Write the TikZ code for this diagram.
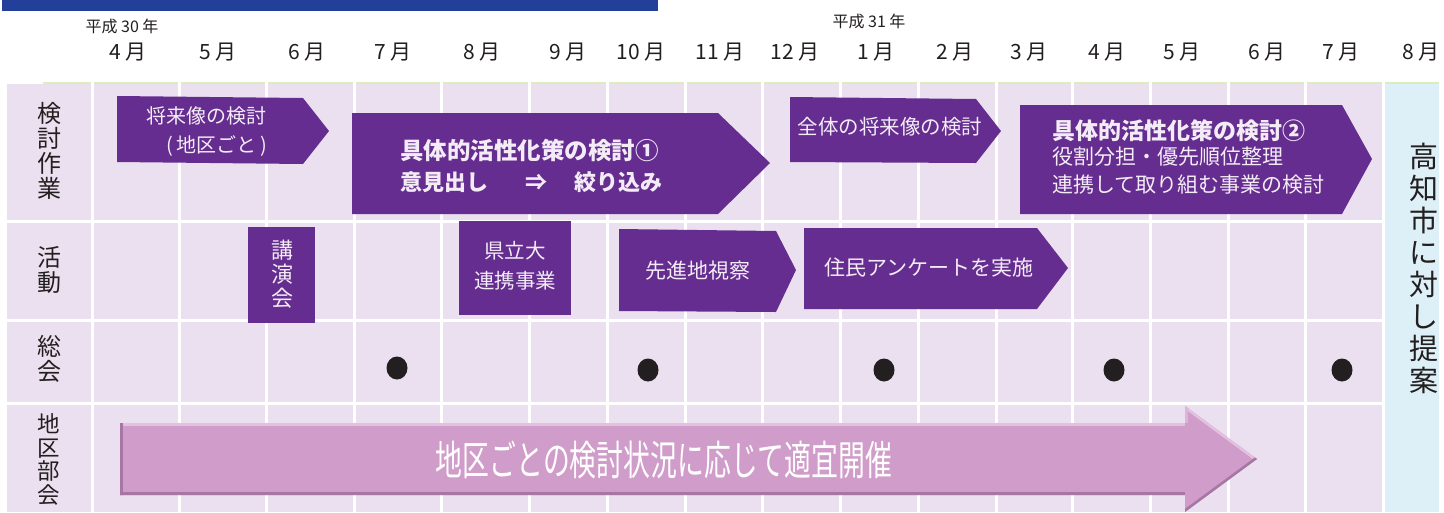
\documentclass[tikz,border=0pt]{standalone}
\usepackage{fontspec}
\setmainfont{Noto Sans CJK JP}
\newcommand\setfs[1]{\fontsize{#1}{#1}\selectfont}
\definecolor{bluebar}{HTML}{22409A}
\definecolor{cell}{HTML}{EBE0EF}
\definecolor{grn}{HTML}{DCEBC0}
\definecolor{pur}{HTML}{652D8F}
\definecolor{lbl}{HTML}{F3ECF6}
\definecolor{cyanc}{HTML}{DEF0F7}
\definecolor{arw}{HTML}{D09CC9}
\definecolor{arwlight}{HTML}{E4C0E0}
\definecolor{arwdark}{HTML}{A676A5}
\definecolor{txt}{HTML}{231F20}
\tikzset{
  purp/.style={fill=pur},
  intxt/.style={text=lbl, inner sep=0pt},
  monthlbl/.style={text=txt, font=\setfs{21pt}},
  yearlbl/.style={text=txt, font=\setfs{16pt}},
  rowlbl/.style={text=txt, align=center, font=\fontsize{24pt}{25pt}\selectfont},
  dot/.style={fill=txt}
}
\begin{document}
\begin{tikzpicture}[x=1pt,y=-1pt, every node/.style={inner sep=0pt, outer sep=0pt}]
\useasboundingbox (0,0) rectangle (1444,512);
\fill[white] (0,0) rectangle (1444,512);
\fill[bluebar] (2,0) rectangle (658,10.5);

% grid cells
\foreach \l/\r in {7/91,94/178,181/265,268/353,356/440,443/528,531/606,609/684,687/761,764/839,842/917,920/995,998/1071,1074/1149,1152/1227,1230/1304,1307/1382}{
  \foreach \t/\b in {84/220,223/319,322/402,405/512}{
    \fill[cell] (\l,\t) rectangle (\r,\b);
  }
}
\foreach \l/\r in {43/91,94/178,181/265,268/353,356/440,443/528,531/606,609/684,687/761,764/839,842/917,920/995,998/1071,1074/1149,1152/1227,1230/1304,1307/1382,1385/1439}{
  \fill[grn] (\l,81.5) rectangle (\r,84);
}
\fill[cyanc] (1385,84) rectangle (1439,512);

% header
\node[yearlbl] (y30) at (122,26) {平成 30 年};
\node[yearlbl] (y31) at (869,21) {平成 31 年};
\foreach \x/\m [count=\i] in {128/4,218/5,307/6,393/7,482/8,568/9,641/10,720/11,795/12,876/1,955/2,1029/3,1107/4,1182/5,1267/6,1341/7,1421/8}{
  \node[monthlbl] (m\i) at (\x,52) {\m\ 月};
}

% row labels
\node[rowlbl] (r1) at (49,151) {検\\討\\作\\業};
\node[rowlbl] (r2) at (49,270) {活\\動};
\node[rowlbl] (r3) at (49,359) {総\\会};
\node[rowlbl, anchor=north, font=\fontsize{22.5pt}{23.5pt}\selectfont] (r4) at (49,414) {地\\区\\部\\会};

% right column
\node[text=txt, align=center, font=\fontsize{29pt}{32pt}\selectfont] (teian) at (1424,268) {高\\知\\市\\に\\対\\し\\提\\案};

% row 1 shapes
\fill[purp] (117,96) -- (303,98) -- (329,131) -- (303,164) -- (117,162) -- cycle;
\node[intxt, font=\setfs{20pt}] (a1) at (206,116) {将来像の検討};
\node[intxt, font=\setfs{20pt}] (a2) at (217,146) {(\,地区ごと\,)};

\fill[purp] (352,113) -- (718,113) -- (770,163) -- (718,214) -- (352,214) -- cycle;
\node[intxt, anchor=west, font=\bfseries\setfs{23.5pt}] (b1) at (400,151) {具体的活性化策の検討①};
\node[intxt, anchor=west, font=\bfseries\setfs{22pt}] (b2) at (400,182) {意見出し\hspace{38pt}⇒\hspace{27pt}絞り込み};

\fill[purp] (790,97) -- (976,99) -- (1001,131) -- (976,163) -- (790,162) -- cycle;
\node[intxt, font=\setfs{20.5pt}] (c1) at (890,127) {全体の将来像の検討};

\fill[purp] (1020,105) -- (1342,105) -- (1372,159) -- (1342,214) -- (1020,214) -- cycle;
\node[intxt, anchor=west, font=\bfseries\setfs{23pt}] (d1) at (1052,131) {具体的活性化策の検討②};
\node[intxt, anchor=west, font=\setfs{21pt}] (d2) at (1052,157) {役割分担・優先順位整理};
\node[intxt, anchor=west, font=\setfs{21pt}] (d3) at (1052,185) {連携して取り組む事業の検討};

% row 2 shapes
\fill[purp] (248,227) rectangle (315,323);
\node[intxt, align=center, font=\fontsize{22pt}{24pt}\selectfont] (e1) at (282,274) {講\\演\\会};

\fill[purp] (459,221) rectangle (571,315);
\node[intxt, font=\setfs{20.5pt}] (f1) at (515,251) {県立大};
\node[intxt, font=\setfs{20.5pt}] (f2) at (515,281) {連携事業};

\fill[purp] (619,229) -- (776,231) -- (796,270) -- (776,312) -- (619,311) -- cycle;
\node[intxt, font=\setfs{21pt}] (g1) at (698,271) {先進地視察};

\fill[purp] (804,228) -- (1037,228) -- (1068,268) -- (1037,309) -- (804,309) -- cycle;
\node[intxt, font=\setfs{21pt}] (h1) at (929,268) {住民アンケートを実施};

% row 3 dots
\foreach \x/\y [count=\i] in {397/368,648/370,884/370,1114/370,1342/370}{
  \fill[dot] (\x,\y) ellipse (10.5 and 11.5);
}

% row 4 big arrow
\fill[arw] (120,423) -- (1185,423) -- (1185,406) -- (1257,459) -- (1185,512) -- (1185,495) -- (120,495) -- cycle;
\begin{scope}
  \clip (120,423) -- (1185,423) -- (1185,406) -- (1257,459) -- (1185,512) -- (1185,495) -- (120,495) -- cycle;
  \draw[arwlight, line width=6pt] (117,423) -- (1185,423);
  \draw[arwdark, line width=6pt] (117,495) -- (1185,495);
  \draw[arwdark, line width=6pt] (120,420) -- (120,498);
  \draw[arwlight, line width=5pt] (1185,406) -- (1257,459);
  \draw[arwdark, line width=5pt] (1257,459) -- (1185,512);
  \draw[arwlight!70!arw, line width=5pt] (1185,406) -- (1185,423);
\end{scope}
\node[text=white] (k1) at (664,460) {\scalebox{0.655}[1]{\setfs{41pt}地区ごとの検討状況に応じて適宜開催}};
\end{tikzpicture}
\end{document}
